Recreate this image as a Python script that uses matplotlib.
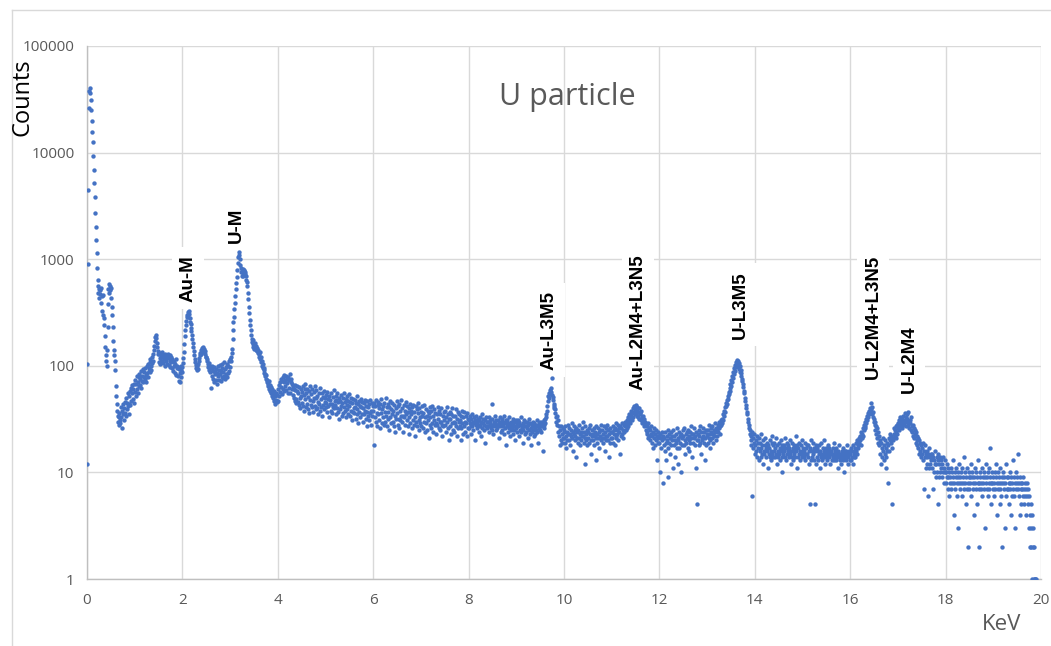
import numpy as np
import matplotlib.pyplot as plt
from matplotlib.lines import Line2D
from matplotlib.ticker import FuncFormatter, NullLocator

plt.rcParams['font.family'] = ['Open Sans', 'DejaVu Sans']

ch_width = 0.01  # keV per channel

# counts per channel, one list per 2 keV
counts_00 = [
    12, 105, 900, 4500, 26000, 38000, 40000, 36000, 31000, 25000,
    20000, 15500, 12500, 9300, 6900, 5200, 3800, 2700, 2000, 1500,
    1150, 830, 640, 560, 480, 520, 430, 470, 510, 390,
    540, 450, 330, 300, 460, 280, 240, 190, 150, 125,
    110, 100, 140, 230, 380, 520, 590, 480, 560, 510,
    430, 540, 360, 300, 230, 170, 140, 126, 110, 91,
    65, 52, 44, 38, 34, 30, 28, 33, 36, 31,
    29, 41, 33, 38, 26, 44, 35, 40, 31, 46,
    36, 50, 34, 45, 39, 55, 42, 35, 52, 44,
    58, 43, 62, 47, 55, 66, 49, 60, 45, 68,
    57, 74, 52, 68, 80, 60, 71, 55, 78, 65,
    84, 66, 76, 90, 62, 81, 72, 93, 70, 79,
    88, 75, 96, 82, 71, 99, 86, 78, 104, 90,
    95, 108, 87, 115, 100, 92, 120, 106, 130, 112,
    140, 155, 172, 188, 196, 182, 165, 150, 138, 130,
    128, 108, 118, 132, 105, 125, 112, 135, 110, 120,
    106, 126, 115, 100, 130, 111, 122, 104, 118, 128,
    124, 102, 119, 110, 127, 98, 121, 108, 95, 117,
    112, 90, 108, 99, 86, 104, 115, 82, 96, 100,
    80, 98, 72, 94, 85, 70, 92, 78, 100, 88,
]
counts_02 = [
    98, 106, 118, 135, 160, 190, 215, 240, 262, 285,
    300, 318, 290, 325, 305, 278, 260, 245, 228, 210,
    196, 180, 165, 150, 138, 125, 116, 108, 102, 96,
    92, 99, 94, 104, 110, 118, 125, 132, 128, 140,
    135, 146, 138, 150, 142, 134, 145, 128, 138, 122,
    120, 112, 116, 104, 98, 106, 92, 100, 88, 95,
    62, 95, 80, 100, 76, 90, 70, 97, 84, 88,
    74, 94, 86, 68, 99, 80, 91, 73, 102, 83,
    90, 72, 96, 79, 105, 77, 88, 108, 81, 94,
    76, 97, 84, 104, 79, 99, 86, 110, 90, 115,
    98, 112, 120, 132, 145, 180, 215, 260, 290, 340,
    390, 450, 520, 600, 680, 800, 920, 1050, 1170, 1100,
    1000, 880, 760, 820, 700, 780, 740, 810, 690, 770,
    800, 720, 760, 640, 700, 610, 560, 480, 420, 360,
    310, 270, 240, 215, 195, 180, 168, 175, 160, 150,
    158, 145, 162, 150, 142, 155, 138, 148, 132, 140,
    128, 122, 135, 115, 120, 108, 112, 100, 104, 95,
    92, 86, 95, 80, 84, 76, 82, 70, 74, 68,
    65, 72, 60, 66, 58, 63, 55, 61, 52, 57,
    50, 58, 47, 54, 44, 52, 48, 56, 46, 53,
]
counts_04 = [
    47, 60, 66, 52, 70, 57, 76, 63, 54, 72,
    78, 60, 71, 82, 58, 74, 64, 80, 59, 75,
    69, 79, 56, 73, 62, 84, 55, 70, 76, 60,
    68, 53, 64, 50, 61, 47, 59, 66, 49, 45,
    58, 64, 46, 55, 43, 63, 50, 40, 60, 52,
    45, 57, 64, 42, 53, 38, 60, 49, 67, 41,
    55, 44, 61, 39, 51, 58, 36, 48, 64, 43,
    54, 41, 60, 47, 37, 57, 50, 42, 65, 39,
    50, 59, 40, 52, 35, 46, 56, 44, 62, 38,
    49, 41, 55, 34, 51, 43, 58, 39, 50, 46,
    41, 53, 45, 37, 57, 42, 49, 33, 52, 44,
    48, 38, 56, 44, 36, 51, 41, 59, 40, 47,
    43, 52, 35, 48, 40, 55, 37, 46, 32, 50,
    39, 47, 42, 53, 34, 45, 50, 36, 56, 41,
    46, 38, 49, 33, 43, 52, 39, 47, 35, 54,
    42, 34, 46, 38, 50, 31, 45, 37, 49, 40,
    36, 48, 41, 32, 45, 39, 52, 35, 44, 29,
    47, 37, 42, 33, 49, 41, 35, 46, 30, 40,
    35, 45, 38, 48, 32, 42, 27, 37, 47, 34,
    41, 31, 44, 36, 48, 38, 28, 45, 34, 42,
]
counts_06 = [
    38, 18, 45, 33, 42, 30, 48, 36, 27, 43,
    35, 46, 31, 40, 26, 44, 36, 49, 29, 39,
    42, 33, 28, 45, 37, 30, 50, 34, 41, 27,
    32, 44, 37, 25, 41, 33, 47, 29, 39, 35,
    45, 30, 38, 27, 43, 34, 24, 40, 32, 47,
    36, 28, 42, 32, 44, 26, 38, 31, 48, 34,
    30, 40, 34, 24, 43, 33, 38, 28, 46, 35,
    31, 42, 27, 37, 23, 40, 33, 44, 29, 38,
    35, 26, 41, 31, 43, 28, 37, 22, 33, 42,
    30, 39, 27, 36, 45, 31, 25, 40, 33, 29,
    37, 27, 34, 42, 26, 36, 30, 43, 24, 33,
    29, 39, 34, 25, 38, 31, 21, 36, 28, 41,
    33, 26, 38, 29, 42, 34, 24, 31, 39, 28,
    36, 29, 23, 35, 28, 41, 32, 26, 38, 30,
    25, 35, 30, 40, 28, 22, 34, 27, 37, 31,
    28, 38, 24, 33, 30, 41, 26, 35, 20, 32,
    37, 27, 32, 23, 35, 29, 40, 25, 34, 30,
    24, 34, 29, 39, 27, 22, 32, 37, 26, 30,
    35, 27, 31, 20, 34, 26, 38, 29, 23, 33,
    27, 37, 30, 24, 34, 29, 22, 36, 26, 32,
]
counts_08 = [
    31, 26, 34, 29, 23, 32, 28, 35, 27, 30,
    25, 33, 29, 31, 20, 28, 34, 26, 30, 32,
    28, 24, 31, 27, 33, 29, 22, 30, 26, 35,
    29, 32, 25, 28, 31, 19, 27, 33, 30, 26,
    30, 27, 33, 24, 29, 31, 26, 28, 44, 25,
    32, 28, 23, 30, 27, 34, 29, 25, 31, 28,
    26, 31, 28, 21, 29, 33, 27, 30, 24, 32,
    28, 25, 30, 27, 34, 23, 29, 26, 31, 18,
    27, 31, 24, 29, 26, 33, 28, 22, 30, 25,
    29, 26, 32, 23, 28, 30, 25, 27, 20, 31,
    26, 29, 24, 31, 27, 22, 30, 25, 28, 33,
    24, 28, 26, 19, 29, 25, 31, 27, 23, 30,
    27, 24, 30, 26, 21, 28, 25, 32, 23, 29,
    26, 18, 28, 24, 30, 25, 27, 22, 29, 26,
    23, 28, 25, 31, 24, 27, 19, 29, 26, 30,
    25, 28, 24, 30, 27, 16, 29, 26, 31, 28,
    32, 29, 35, 33, 38, 42, 47, 52, 56, 50,
    59, 54, 62, 57, 77, 53, 48, 51, 44, 40,
    42, 36, 39, 33, 30, 34, 28, 31, 24, 27,
    22, 18, 25, 20, 27, 23, 19, 26, 21, 24,
]
counts_10 = [
    21, 25, 19, 27, 22, 17, 24, 20, 28, 23,
    26, 20, 23, 18, 25, 22, 29, 21, 24, 16,
    23, 27, 20, 25, 22, 14, 26, 21, 24, 19,
    25, 21, 28, 23, 18, 24, 20, 26, 22, 30,
    22, 19, 24, 21, 27, 12, 23, 20, 25, 18,
    24, 21, 26, 19, 23, 28, 20, 15, 22, 25,
    20, 23, 18, 26, 22, 24, 13, 21, 27, 19,
    23, 26, 21, 24, 17, 22, 25, 20, 28, 21,
    25, 19, 23, 27, 21, 16, 24, 22, 26, 20,
    22, 28, 20, 25, 14, 23, 19, 26, 21, 24,
    24, 21, 27, 19, 23, 25, 18, 26, 22, 29,
    21, 25, 23, 28, 20, 26, 24, 15, 27, 22,
    26, 23, 29, 25, 21, 28, 24, 30, 27, 25,
    28, 31, 26, 29, 33, 27, 30, 35, 29, 32,
    34, 38, 31, 36, 40, 33, 37, 42, 35, 39,
    36, 43, 34, 38, 41, 33, 37, 40, 32, 36,
    35, 31, 38, 33, 29, 34, 30, 27, 32, 28,
    30, 25, 28, 23, 27, 24, 29, 21, 26, 22,
    25, 20, 23, 27, 19, 22, 17, 24, 21, 26,
    18, 23, 20, 25, 22, 13, 21, 24, 19, 22,
]
counts_12 = [
    19, 23, 10, 21, 17, 24, 20, 8, 22, 18,
    21, 16, 24, 19, 13, 22, 20, 25, 17, 9,
    23, 19, 21, 15, 24, 18, 22, 20, 11, 25,
    18, 22, 20, 14, 23, 19, 26, 17, 21, 12,
    20, 24, 17, 22, 19, 10, 23, 18, 21, 25,
    22, 18, 26, 20, 15, 23, 19, 24, 21, 17,
    25, 20, 22, 16, 24, 19, 27, 21, 14, 23,
    19, 23, 21, 26, 18, 22, 11, 24, 20, 5,
    23, 20, 25, 18, 22, 27, 19, 15, 24, 21,
    20, 26, 22, 19, 24, 13, 21, 25, 18, 23,
    22, 19, 25, 21, 28, 17, 23, 20, 26, 24,
    21, 27, 23, 19, 25, 22, 29, 24, 20, 26,
    25, 22, 28, 24, 30, 26, 23, 29, 27, 31,
    28, 32, 29, 35, 31, 38, 34, 41, 37, 45,
    42, 48, 44, 52, 49, 57, 54, 62, 58, 68,
    65, 74, 70, 80, 77, 88, 84, 95, 90, 102,
    98, 108, 113, 104, 110, 99, 106, 94, 100, 88,
    92, 80, 85, 72, 76, 63, 68, 55, 58, 47,
    50, 40, 43, 35, 37, 30, 32, 26, 28, 23,
    25, 20, 22, 18, 24, 6, 21, 17, 19, 23,
]
counts_14 = [
    18, 15, 20, 16, 22, 14, 17, 19, 13, 21,
    16, 19, 14, 17, 23, 15, 18, 12, 20, 16,
    15, 18, 21, 14, 17, 16, 19, 11, 18, 15,
    17, 14, 20, 16, 13, 19, 15, 22, 14, 18,
    16, 19, 14, 17, 15, 21, 12, 18, 16, 14,
    19, 15, 17, 13, 20, 16, 18, 14, 10, 17,
    15, 18, 16, 21, 14, 17, 13, 19, 15, 16,
    18, 14, 17, 15, 20, 12, 16, 19, 14, 17,
    16, 13, 18, 15, 17, 14, 22, 16, 11, 18,
    14, 17, 15, 19, 13, 16, 18, 15, 20, 14,
    17, 15, 16, 16, 14, 19, 13, 17, 15, 18,
    15, 18, 14, 16, 12, 17, 5, 20, 13, 16,
    14, 16, 19, 15, 17, 13, 16, 5, 18, 12,
    17, 14, 16, 13, 18, 15, 11, 16, 14, 19,
    15, 13, 17, 14, 16, 20, 14, 15, 12, 17,
    14, 16, 13, 18, 15, 14, 17, 12, 16, 15,
    16, 13, 15, 17, 14, 19, 15, 13, 16, 14,
    13, 17, 14, 15, 11, 16, 14, 18, 13, 15,
    15, 12, 16, 14, 17, 13, 15, 10, 14, 16,
    14, 16, 13, 15, 18, 14, 12, 16, 15, 13,
]
counts_16 = [
    15, 13, 17, 14, 16, 12, 18, 15, 14, 16,
    17, 14, 19, 16, 15, 20, 17, 18, 21, 19,
    20, 22, 18, 24, 21, 23, 26, 22, 25, 28,
    27, 30, 26, 32, 29, 34, 31, 36, 33, 38,
    35, 40, 37, 45, 39, 35, 41, 33, 37, 30,
    32, 28, 30, 25, 27, 23, 26, 21, 24, 19,
    22, 18, 20, 15, 19, 12, 17, 14, 21, 16,
    13, 18, 15, 20, 11, 17, 14, 19, 16, 8,
    18, 21, 16, 20, 23, 19, 22, 17, 5, 21,
    20, 23, 26, 22, 25, 21, 27, 24, 28, 23,
    26, 29, 25, 31, 27, 33, 28, 30, 26, 32,
    29, 34, 30, 28, 36, 31, 33, 27, 35, 30,
    32, 28, 37, 30, 26, 31, 29, 25, 33, 27,
    24, 28, 22, 26, 21, 25, 23, 19, 24, 20,
    22, 18, 21, 17, 20, 15, 19, 16, 18, 14,
    17, 15, 19, 13, 16, 7, 18, 14, 15, 11,
    14, 16, 12, 15, 6, 17, 11, 14, 12, 15,
    13, 11, 15, 7, 14, 10, 13, 16, 12, 9,
    12, 14, 10, 13, 5, 15, 9, 12, 14, 10,
    11, 13, 9, 12, 10, 14, 8, 11, 13, 10,
]
counts_18 = [
    10, 8, 12, 9, 7, 11, 9, 6, 10, 8,
    9, 11, 7, 10, 8, 13, 9, 4, 8, 10,
    7, 9, 11, 8, 6, 10, 9, 3, 8, 12,
    9, 7, 10, 8, 11, 6, 9, 8, 14, 7,
    8, 10, 5, 9, 7, 11, 8, 2, 9, 10,
    7, 9, 8, 12, 6, 9, 10, 7, 8, 4,
    9, 11, 8, 7, 10, 5, 9, 8, 13, 7,
    8, 2, 9, 10, 7, 8, 6, 11, 9, 8,
    10, 7, 9, 3, 8, 12, 7, 9, 6, 10,
    8, 11, 7, 9, 17, 8, 5, 10, 8, 7,
    9, 8, 6, 10, 7, 12, 9, 4, 8, 7,
    10, 8, 9, 5, 7, 11, 8, 6, 9, 2,
    8, 10, 7, 9, 3, 8, 6, 12, 7, 9,
    7, 9, 8, 5, 10, 7, 8, 4, 9, 6,
    8, 13, 7, 9, 6, 8, 3, 10, 7, 8,
    9, 7, 15, 8, 6, 9, 4, 7, 8, 5,
    7, 8, 6, 9, 7, 5, 8, 6, 4, 7,
    6, 8, 5, 7, 3, 6, 4, 2, 5, 3,
    2, 4, 1, 3, 2, 1, 2, 1, 1, 1,
]

peak_names = ["Au-M", "U-M", "Au-L3M5", "Au-L2M4+L3N5", "U-L3M5", "U-L2M4+L3N5", "U-L2M4"]
peak_kev = [2.12, 3.14, 9.68, 11.56, 13.70, 16.48, 17.24]
label_base = [400, 1420, 92, 59, 180, 76, 55]

counts = np.concatenate([counts_00, counts_02, counts_04, counts_06, counts_08,
                         counts_10, counts_12, counts_14, counts_16, counts_18])
kev = np.arange(len(counts)) * ch_width

fig = plt.figure(figsize=(10.51, 6.46), dpi=100)
ax = fig.add_axes([0.0828, 0.1037, 0.9077, 0.8251])

ax.scatter(kev, counts, s=10, color='#4472C4', linewidths=0, zorder=5)

ax.set_yscale('log')
ax.set_ylim(1, 100000)
ax.set_xlim(0, 20)
ax.set_xticks(np.arange(0, 21, 2))
ax.set_yticks([1, 10, 100, 1000, 10000, 100000])
ax.yaxis.set_minor_locator(NullLocator())
ax.yaxis.set_major_formatter(FuncFormatter(lambda v, p: f"{v:.0f}"))

ax.grid(True, color='#D9D9D9', linewidth=1)
ax.set_axisbelow(True)
for side in ['top', 'right']:
    ax.spines[side].set_visible(False)
for side in ['left', 'bottom']:
    ax.spines[side].set_color('#BFBFBF')
    ax.spines[side].set_linewidth(1)
ax.tick_params(length=0, labelsize=11, labelcolor='#595959')
ax.tick_params(axis='x', pad=10)
ax.tick_params(axis='y', pad=9)

for name, xk, yb in zip(peak_names, peak_kev, label_base):
    ax.text(xk, yb, name, rotation=90, ha='center', va='bottom',
            fontsize=13.5, fontweight='bold', family='Liberation Sans', color='black',
            bbox=dict(boxstyle='square,pad=0.4', facecolor='white', edgecolor='none'),
            zorder=4)

fig.text(567 / 1051, 1 - 97 / 646, "U particle", ha='center', va='center',
         fontsize=22, color='#595959')
fig.text(23 / 1051, 1 - 97 / 646, "Counts", ha='center', va='center',
         rotation=90, fontsize=17, color='black')
fig.text(1002 / 1051, 1 - 624 / 646, "KeV", ha='center', va='center',
         fontsize=16, color='#595959')

# chart-area border (top and left edges)
fig.add_artist(Line2D([12 / 1051, 1], [1 - 10 / 646, 1 - 10 / 646],
                      color='#D9D9D9', linewidth=1, transform=fig.transFigure))
fig.add_artist(Line2D([12 / 1051, 12 / 1051], [0, 1 - 10 / 646],
                      color='#D9D9D9', linewidth=1, transform=fig.transFigure))

plt.savefig("out.png", dpi=100)
